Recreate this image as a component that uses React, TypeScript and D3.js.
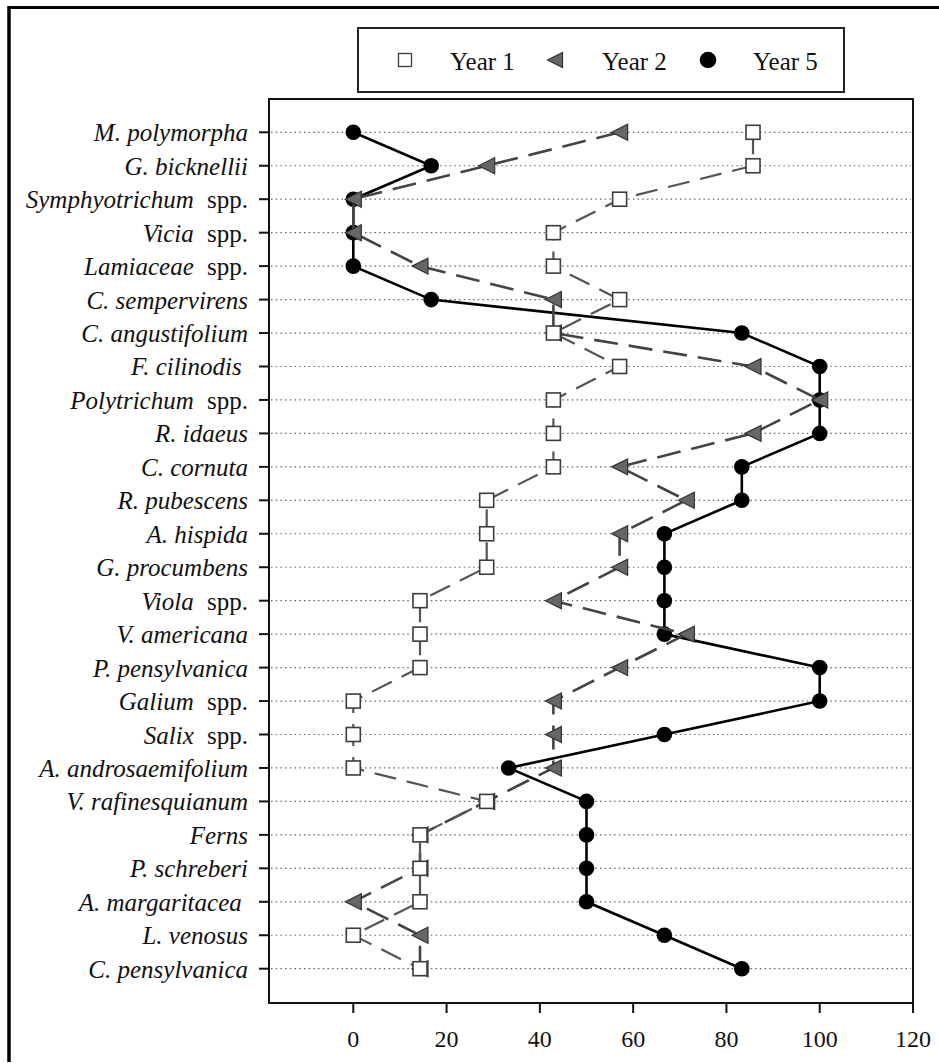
import React from 'react';
import * as d3 from 'd3';

const species = [
  'M. polymorpha', 'G. bicknellii', 'Symphyotrichum spp.', 'Vicia spp.', 'Lamiaceae spp.',
  'C. sempervirens', 'C. angustifolium', 'F. cilinodis ', 'Polytrichum spp.', 'R. idaeus',
  'C. cornuta', 'R. pubescens', 'A. hispida', 'G. procumbens', 'Viola spp.',
  'V. americana', 'P. pensylvanica', 'Galium spp.', 'Salix spp.', 'A. androsaemifolium',
  'V. rafinesquianum', 'Ferns', 'P. schreberi', 'A. margaritacea ', 'L. venosus', 'C. pensylvanica',
];

const year1 = [85.7, 85.7, 57.1, 42.9, 42.9, 57.1, 42.9, 57.1, 42.9, 42.9, 42.9, 28.6, 28.6, 28.6, 14.3, 14.3, 14.3, 0, 0, 0, 28.6, 14.3, 14.3, 14.3, 0, 14.3];
const year2 = [57.1, 28.6, 0, 0, 14.3, 42.9, 42.9, 85.7, 100, 85.7, 57.1, 71.4, 57.1, 57.1, 42.9, 71.4, 57.1, 42.9, 42.9, 42.9, 28.6, 14.3, 14.3, 0, 14.3, 14.3];
const year5 = [0, 16.7, 0, 0, 0, 16.7, 83.3, 100, 100, 100, 83.3, 83.3, 66.7, 66.7, 66.7, 66.7, 100, 100, 66.7, 33.3, 50, 50, 50, 50, 66.7, 83.3];

const xTicks = [0, 20, 40, 60, 80, 100, 120];
const legendLabels = ['Year 1', 'Year 2', 'Year 5'];

const W = 939;
const H = 1063;
const box = { left: 269, top: 99, right: 913, bottom: 1003 };
const serif = { fontFamily: "'Liberation Serif', 'Times New Roman', Times, 'DejaVu Serif', serif" };

// point markers
const Square = ({ x, y, s = 14, sw = 1.6 }: any) => (
  <rect x={x - s / 2} y={y - s / 2} width={s} height={s} fill="#fff" stroke="#3c3c3c" strokeWidth={sw} />
);
const Tri = ({ x, y, s = 16 }: any) => (
  <path
    d={`M${x - s / 2},${y} L${x + s / 2},${y - s / 2} L${x + s / 2},${y + s / 2} Z`}
    fill="#666"
    stroke="#333"
    strokeWidth={1.2}
  />
);
const Dot = ({ x, y, r = 7.8 }: any) => <circle cx={x} cy={y} r={r} fill="#000" />;

export default function App() {
  const x = d3.scaleLinear().domain([0, 120]).range([353.3, 913]);
  const y = d3.scalePoint<string>().domain(species).range([132.3, 968.7]);

  const line = d3
    .line<number>()
    .x((d) => x(d))
    .y((_, i) => y(species[i]) as number);

  return (
    <svg width={W} height={H} style={{ position: 'absolute', left: 0, top: 0, background: '#fff' }}>
      {/* outer frame, cropped on the right and bottom */}
      <line x1={9} y1={7.5} x2={W} y2={7.5} stroke="#000" strokeWidth={3} />
      <line x1={9} y1={6} x2={9} y2={1062} stroke="#000" strokeWidth={3.5} />

      {/* legend */}
      <rect x={358} y={28} width={486} height={64} fill="#fff" stroke="#222" strokeWidth={2} />
      <Square x={405} y={60} s={13} sw={1.3} />
      <Tri x={555} y={60} s={15} />
      <Dot x={708} y={60} r={8.3} />
      {legendLabels.map((t, i) => (
        <text key={t} x={[450, 602, 753][i]} y={70} style={serif} fontSize={25} fill="#111">
          {t}
        </text>
      ))}

      {/* dotted row guides */}
      {species.map((s) => (
        <line
          key={'g' + s}
          x1={box.left + 2}
          x2={box.right - 2}
          y1={y(s)}
          y2={y(s)}
          stroke="#666"
          strokeWidth={1.2}
          strokeDasharray="1.5 3.2"
        />
      ))}

      {/* Year 5 */}
      <path d={line(year5) as string} fill="none" stroke="#000" strokeWidth={2.6} />
      {year5.map((v, i) => (
        <Dot key={'c' + i} x={x(v)} y={y(species[i]) as number} />
      ))}

      {/* Year 2 */}
      <path d={line(year2) as string} fill="none" stroke="#444" strokeWidth={2.6} strokeDasharray="24 11" />
      {year2.map((v, i) => (
        <Tri key={'t' + i} x={x(v)} y={y(species[i]) as number} />
      ))}

      {/* Year 1 */}
      <path d={line(year1) as string} fill="none" stroke="#555" strokeWidth={2.2} strokeDasharray="22 11" />
      {year1.map((v, i) => (
        <Square key={'s' + i} x={x(v)} y={y(species[i]) as number} />
      ))}

      {/* plot box */}
      <rect
        x={box.left}
        y={box.top}
        width={box.right - box.left}
        height={box.bottom - box.top}
        fill="none"
        stroke="#111"
        strokeWidth={2}
      />

      {/* y axis */}
      {species.map((s) => {
        const yy = y(s) as number;
        const m = s.match(/^(.*?)( spp\.)?(\s*)$/) as RegExpMatchArray;
        return (
          <g key={'y' + s}>
            <line x1={box.left - 10} x2={box.left} y1={yy} y2={yy} stroke="#111" strokeWidth={2} />
            <text
              x={248}
              y={yy + 9}
              textAnchor="end"
              fontSize={25}
              fill="#111"
              style={{ ...serif, whiteSpace: 'pre' }}
            >
              <tspan fontStyle="italic">{m[1]}</tspan>
              {m[2] ? <tspan dx={7}>{m[2]}</tspan> : null}
              {m[3] ? <tspan>{m[3]}</tspan> : null}
            </text>
          </g>
        );
      })}

      {/* x axis */}
      {xTicks.map((t) => (
        <g key={'x' + t}>
          <line x1={x(t)} x2={x(t)} y1={box.bottom} y2={box.bottom + 10} stroke="#111" strokeWidth={2} />
          <text x={x(t)} y={1047} textAnchor="middle" style={serif} fontSize={24} fill="#111">
            {t}
          </text>
        </g>
      ))}
    </svg>
  );
}
